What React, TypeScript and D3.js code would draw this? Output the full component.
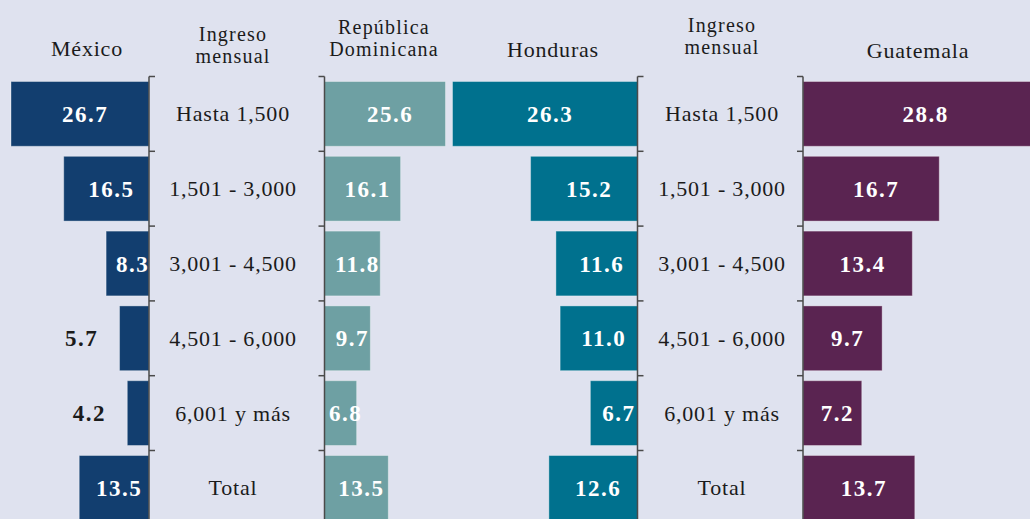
import React from "react";
import * as d3 from "d3";

const categories = ["Hasta 1,500", "1,501 - 3,000", "3,001 - 4,500", "4,501 - 6,000", "6,001 y más", "Total"];
const mexico = [26.7, 16.5, 8.3, 5.7, 4.2, 13.5];
const repDom = [25.6, 16.1, 11.8, 9.7, 6.8, 13.5];
const honduras = [26.3, 15.2, 11.6, 11.0, 6.7, 12.6];
const guatemala = [28.8, 16.7, 13.4, 9.7, 7.2, 13.7];

const W = 1030;
const H = 519;
const FONT = "'Liberation Serif', 'Times New Roman', serif";
const TEXT = "#1b1b1b";

type Panel = {
  title: string[];
  titleX: number;
  titleY: number[];
  values: number[];
  color: string;
  axisX: number;
  dir: number;
  maxPx: number;
  domainMax: number;
};

const panels: Panel[] = [
  { title: ["México"], titleX: 87, titleY: [56], values: mexico, color: "#123E6F", axisX: 149, dir: -1, maxPx: 138, domainMax: 26.7 },
  { title: ["República", "Dominicana"], titleX: 384, titleY: [34, 56], values: repDom, color: "#6EA0A3", axisX: 324.5, dir: 1, maxPx: 121, domainMax: 25.6 },
  { title: ["Honduras"], titleX: 553, titleY: [57], values: honduras, color: "#00718E", axisX: 637.5, dir: -1, maxPx: 185, domainMax: 26.3 },
  { title: ["Guatemala"], titleX: 918, titleY: [58], values: guatemala, color: "#5A2451", axisX: 803, dir: 1, maxPx: 235, domainMax: 28.8 },
];

const labelColumns = [
  { x: 233, headerY: [41, 63] },
  { x: 722, headerY: [32, 54] },
];

const fmt = d3.format(".1f");

export default function App() {
  const y = d3.scaleBand<string>().domain(categories).range([76.5, 525.3]).paddingInner(0.134).paddingOuter(0.067);
  const step = y.step();
  const gap = step - y.bandwidth();
  const boundaries = categories.map((c) => (y(c) as number) - gap / 2);
  boundaries.push(boundaries[boundaries.length - 1] + step);

  return (
    <svg width={W} height={H} style={{ position: "fixed", left: 0, top: 0, display: "block" }} fontFamily={FONT}>
      <rect x={0} y={0} width={W} height={H} fill="#DFE2EF" />
      {panels.map((p, pi) => {
        const x = d3.scaleLinear().domain([0, p.domainMax]).range([0, p.maxPx]);
        const multi = p.title.length > 1;
        return (
          <g key={pi}>
            {p.title.map((t, ti) => (
              <text
                key={ti}
                x={p.titleX}
                y={p.titleY[ti]}
                textAnchor="middle"
                fontSize={multi ? 20 : 22}
                letterSpacing={multi ? 1.2 : 0.8}
                fill={TEXT}
              >
                {t}
              </text>
            ))}
            {p.values.map((v, i) => {
              const w = x(v);
              const cy = (y(categories[i]) as number) + y.bandwidth() / 2;
              const bx = p.dir < 0 ? p.axisX - w : p.axisX;
              const inside = w >= 30;
              const lx = inside ? p.axisX + (p.dir * w) / 2 + 5 : p.axisX + p.dir * (w + 38);
              return (
                <g key={i}>
                  <rect
                    x={bx}
                    y={y(categories[i]) as number}
                    width={w}
                    height={y.bandwidth()}
                    fill={p.color}
                    stroke="rgba(255,255,255,0.35)"
                    strokeWidth={1}
                  />
                  <text
                    x={lx}
                    y={cy + 8}
                    textAnchor="middle"
                    fontSize={23}
                    fontWeight="bold"
                    letterSpacing={1.5}
                    fill={inside ? "#ffffff" : TEXT}
                  >
                    {fmt(v)}
                  </text>
                </g>
              );
            })}
            <line x1={p.axisX} x2={p.axisX} y1={boundaries[0]} y2={H + 10} stroke="#4a4a4a" strokeWidth={1.5} />
            {boundaries.map((b, bi) => (
              <line key={bi} x1={p.axisX} x2={p.axisX - p.dir * 6} y1={b} y2={b} stroke="#4a4a4a" strokeWidth={1.5} />
            ))}
          </g>
        );
      })}
      {labelColumns.map((col, ci) => (
        <g key={ci}>
          <text x={col.x} y={col.headerY[0]} textAnchor="middle" fontSize={20} letterSpacing={1.2} fill={TEXT}>
            Ingreso
          </text>
          <text x={col.x} y={col.headerY[1]} textAnchor="middle" fontSize={20} letterSpacing={1.2} fill={TEXT}>
            mensual
          </text>
          {categories.map((c) => (
            <text
              key={c}
              x={col.x}
              y={(y(c) as number) + y.bandwidth() / 2 + 7.5}
              textAnchor="middle"
              fontSize={22}
              letterSpacing={0.8}
              fill={TEXT}
            >
              {c}
            </text>
          ))}
        </g>
      ))}
    </svg>
  );
}
